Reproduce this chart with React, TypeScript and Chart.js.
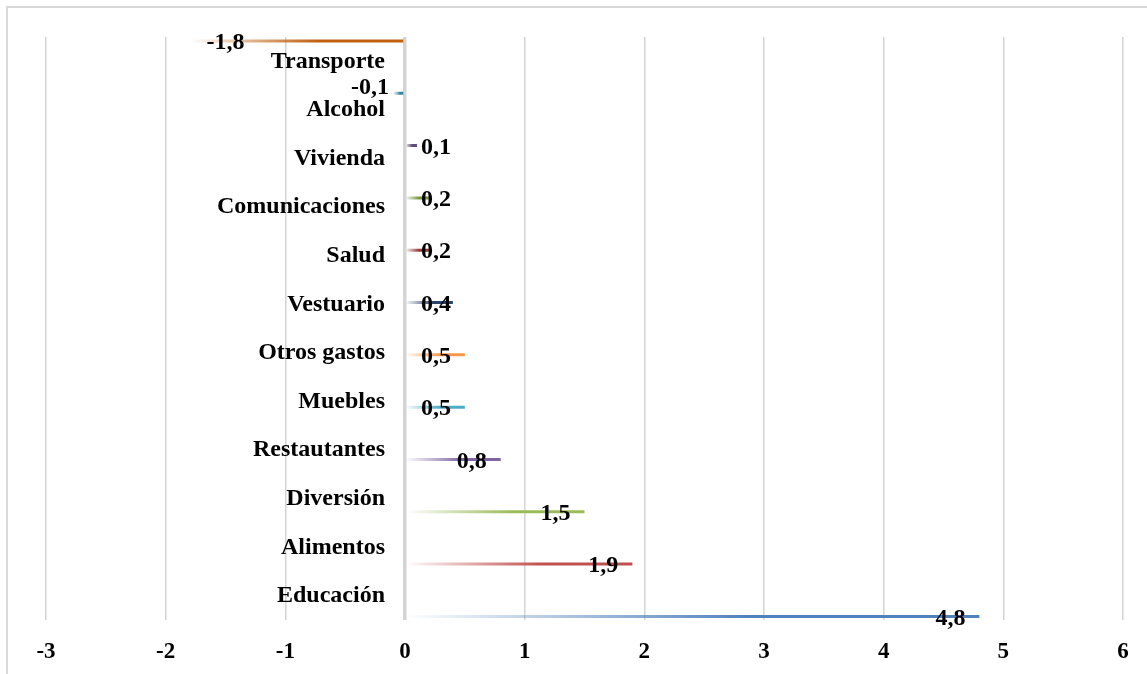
import React, { useEffect, useRef } from "react";
import { Chart, registerables } from "chart.js";

Chart.register(...registerables);

// ---- data ----
const categories: string[] = [
  "Transporte",
  "Alcohol",
  "Vivienda",
  "Comunicaciones",
  "Salud",
  "Vestuario",
  "Otros gastos",
  "Muebles",
  "Restautantes",
  "Diversión",
  "Alimentos",
  "Educación",
];
const values: number[] = [-1.8, -0.1, 0.1, 0.2, 0.2, 0.4, 0.5, 0.5, 0.8, 1.5, 1.9, 4.8];
const barColors: string[] = [
  "#c0600f",
  "#31859c",
  "#5f4b7c",
  "#77933c",
  "#953735",
  "#24446e",
  "#f79646",
  "#4bacc6",
  "#8064a2",
  "#9bbb59",
  "#c0504d",
  "#4f81bd",
];
const xMin = -3;
const xMax = 6;

const FONT = '"Liberation Serif", "Times New Roman", serif';

function rgba(hex: string, a: number): string {
  const h = hex.replace("#", "");
  const r = parseInt(h.slice(0, 2), 16);
  const g = parseInt(h.slice(2, 4), 16);
  const b = parseInt(h.slice(4, 6), 16);
  return `rgba(${r},${g},${b},${a})`;
}

function fmt(v: number): string {
  return v.toFixed(1).replace(".", ",");
}

const valueLabels = {
  id: "valueLabels",
  afterDatasetsDraw(chart: any) {
    const ctx = chart.ctx as CanvasRenderingContext2D;
    const xs = chart.scales.x;
    const zero = xs.getPixelForValue(0);
    ctx.save();
    ctx.font = `bold 24px ${FONT}`;
    ctx.fillStyle = "#000";
    ctx.textBaseline = "middle";
    ctx.textAlign = "left";
    chart.data.datasets.forEach((_ds: any, j: number) => {
      const meta = chart.getDatasetMeta(j);
      const el = meta.data[j];
      if (!el) return;
      const v = values[j];
      const text = fmt(v);
      const w = ctx.measureText(text).width;
      const end = xs.getPixelForValue(v);
      let left: number;
      let dy = 2;
      if (v >= 0) {
        left = Math.max(zero + 16, end - 14 - w);
      } else {
        const inside = end + 17 + w;
        const right = Math.min(zero - 16, inside);
        if (right < inside) dy = -6;
        left = right - w;
      }
      ctx.fillText(text, left, el.y + dy);
    });
    ctx.restore();
  },
};

export default function App() {
  const ref = useRef<HTMLCanvasElement | null>(null);

  useEffect(() => {
    if (!ref.current) return;
    const datasets = categories.map((cat, j) => {
      const color = barColors[j];
      return {
        label: cat,
        data: categories.map((_c, i) => (i === j ? values[j] : null)),
        backgroundColor: (c: any) => {
          const chart = c.chart;
          const xs = chart.scales?.x;
          const v = c.raw;
          if (!xs || v == null || c.type !== "data") return color;
          const a = xs.getPixelForValue(Math.min(0, v));
          const b = xs.getPixelForValue(Math.max(0, v));
          if (!isFinite(a) || !isFinite(b) || a === b) return color;
          const g = chart.ctx.createLinearGradient(a, 0, b, 0);
          g.addColorStop(0, rgba(color, 0));
          g.addColorStop(0.6, rgba(color, 1));
          g.addColorStop(1, rgba(color, 1));
          return g;
        },
        borderWidth: 0,
        barPercentage: 1,
        categoryPercentage: 0.911,
        maxBarThickness: 3,
      };
    });

    const chart = new Chart(ref.current, {
      type: "bar",
      data: { labels: categories, datasets: datasets as any },
      options: {
        indexAxis: "y",
        animation: false,
        responsive: false,
        maintainAspectRatio: false,
        layout: { padding: { left: 46, right: 24, top: 37, bottom: 0 } },
        plugins: {
          legend: { display: false },
          tooltip: { enabled: false },
        },
        scales: {
          x: {
            type: "linear",
            min: xMin,
            max: xMax,
            position: "bottom",
            ticks: {
              stepSize: 1,
              padding: 18,
              color: "#000",
              font: { family: FONT, size: 23, weight: "bold" },
              callback: (v: any) => String(v),
            },
            grid: {
              color: "#d4d4d4",
              lineWidth: (c: any) => (c.tick && c.tick.value === 0 ? 3.5 : 1.5),
              drawTicks: false,
            },
            border: { display: false },
          },
          y: {
            type: "category",
            position: { x: -0.167 } as any,
            offset: true,
            grid: { display: false, drawTicks: false },
            border: { display: false },
            ticks: {
              padding: 0,
              autoSkip: false,
              color: "#000",
              font: { family: FONT, size: 24, weight: "bold" },
            },
          },
        },
      },
      plugins: [valueLabels],
    });
    return () => chart.destroy();
  }, []);

  return (
    <div
      style={{
        position: "absolute",
        left: 0,
        top: 0,
        width: 1147,
        height: 674,
        overflow: "hidden",
      }}
    >
      <div
        style={{
          position: "absolute",
          left: 6,
          top: 6,
          width: 1141,
          height: 668,
          boxSizing: "border-box",
          borderLeft: "2px solid #d9d9d9",
          borderTop: "2px solid #d9d9d9",
        }}
      />
      <canvas
        ref={ref}
        width={1147}
        height={684}
        style={{ position: "absolute", left: 0, top: 0, width: 1147, height: 684, display: "block" }}
      />
    </div>
  );
}
